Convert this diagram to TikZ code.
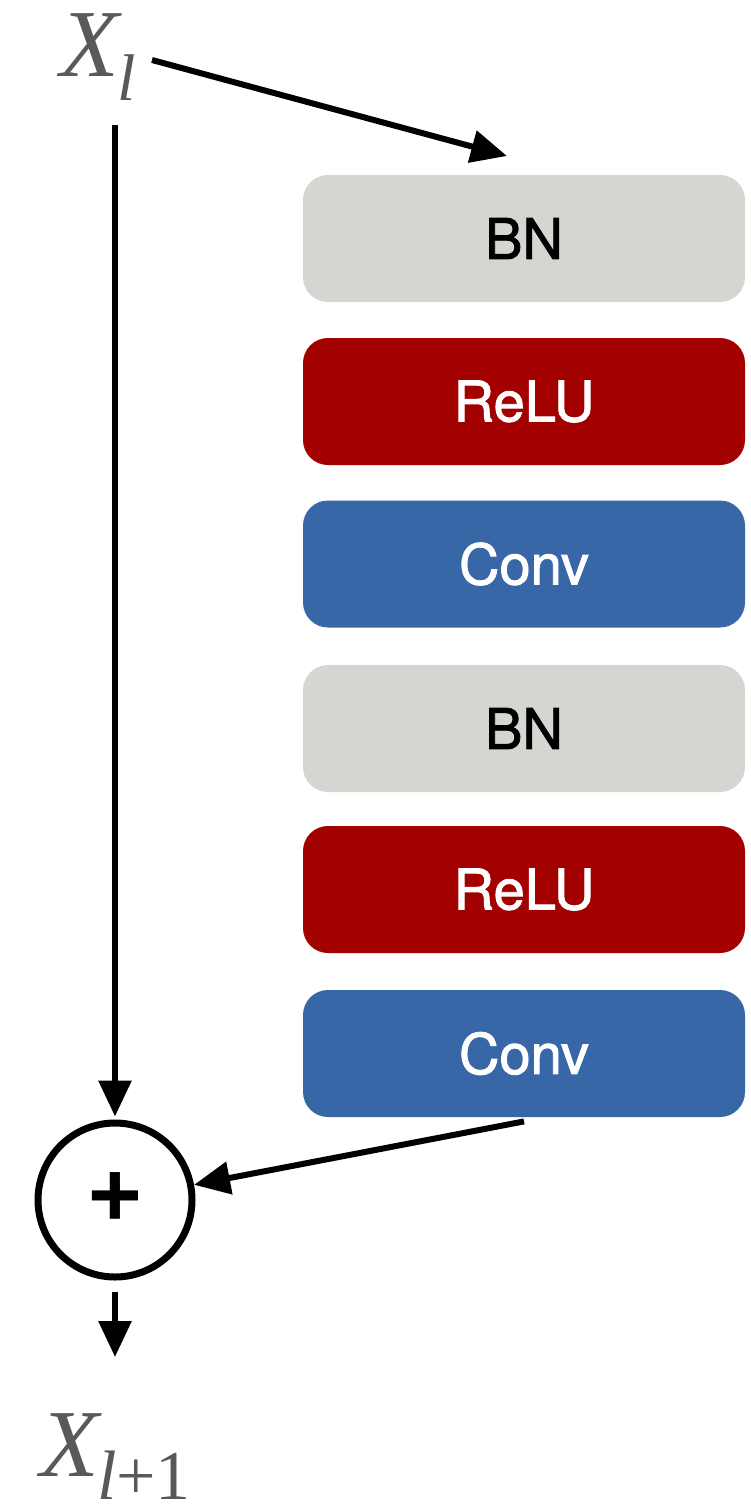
\documentclass[tikz,border=0pt]{standalone}
\usepackage{fontspec}
\setmainfont{Liberation Sans}
\newfontfamily\serifit{Liberation Serif}
\newfontface\boxfont{TeX Gyre Heros}[FakeBold=1.6]
\usetikzlibrary{arrows.meta}
\definecolor{bngray}{HTML}{D4D7D1}
\definecolor{relured}{HTML}{A30000}
\definecolor{convblue}{HTML}{3867A8}
\definecolor{labgray}{HTML}{595959}
\begin{document}
\begin{tikzpicture}[x=0.5pt,y=-0.5pt,
  layer/.style={rounded corners=12.5pt, minimum width=221pt, minimum height=63.5pt, inner sep=0pt, font=\boxfont\fontsize{28}{30}\selectfont},
  bn/.style={layer, fill=bngray, text=black},
  relu/.style={layer, fill=relured, text=white},
  conv/.style={layer, fill=convblue, text=white},
  conn/.style={line width=3pt, -{Triangle[length=18pt,width=16pt]}},
  lab/.style={text=labgray, inner sep=0pt, anchor=base west, font=\serifit\fontsize{48}{50}\selectfont},
  sumnode/.style={circle, draw, line width=3.5pt, minimum size=77pt, inner sep=0pt, font=\bfseries\fontsize{46}{48}\selectfont}]
\useasboundingbox (0,0) rectangle (750,1505);

\node[bn]   (b1) at (524,238.5) {BN};
\node[relu] (r1) at (524,401.5) {ReLU};
\node[conv] (c1) at (524,564)   {Conv};
\node[bn]   (b2) at (524,728.5) {BN};
\node[relu] (r2) at (524,889.5) {ReLU};
\node[conv] (c2) at (524,1053.5){Conv};

\node[sumnode] (plus) at (115,1200) {+};

\node[lab] (xl) at (60,76) {\itshape X\kern-1pt\raisebox{-12pt}{\fontsize{33}{35}\selectfont\itshape l}};
\node[lab] (xout) at (40,1476) {\itshape X\kern-1pt\raisebox{-11.5pt}{\fontsize{35}{37}\selectfont\itshape l\upshape+1}};

\coordinate (fork) at (152,60);
\coordinate (tip) at (507,156);
\coordinate (vtop) at (115,125);
\coordinate (out) at (115,1357);

\draw[conn] (fork) -- (tip);
\draw[conn] (vtop) -- ([yshift=1.5pt]plus.north);
\draw[conn] ([yshift=-2pt]c2.south) -- (plus);
\draw[conn] ([yshift=-5.5pt]plus.south) -- (out);
\end{tikzpicture}
\end{document}
